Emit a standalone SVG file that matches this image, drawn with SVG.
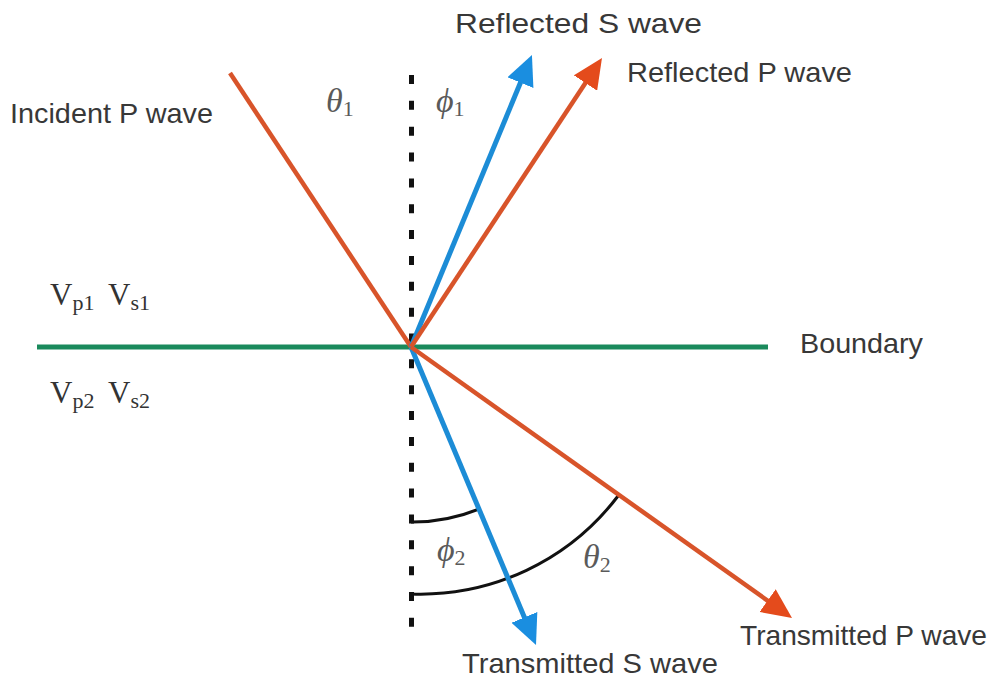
<svg xmlns="http://www.w3.org/2000/svg" width="995" height="682" viewBox="0 0 995 682">
<style>
.lbl{font-family:"Liberation Sans",Arial,sans-serif;font-size:28px;fill:#383838}
.math{font-family:"Liberation Serif","DejaVu Serif",serif;font-style:italic;font-size:34px;fill:#5a5a5a}
.sub{font-style:normal;font-size:22px}
.vel{font-family:"Liberation Serif","DejaVu Serif",serif;font-size:31px;fill:#333}
.vsub{font-size:22px}
.p{stroke:#d8542a;stroke-width:4.5;fill:none}
.s{stroke:#1c8cd6;stroke-width:5;fill:none}
.arc{stroke:#111;stroke-width:3;fill:none}
</style>
<defs>
<marker id="ahP" viewBox="0 0 30 28" refX="15" refY="14" markerWidth="30" markerHeight="28" markerUnits="userSpaceOnUse" orient="auto">
<path d="M0,0 L30,14 L0,28 z" fill="#e44b1c"/>
</marker>
<marker id="ahS" viewBox="0 0 30 28" refX="15" refY="14" markerWidth="30" markerHeight="28" markerUnits="userSpaceOnUse" orient="auto">
<path d="M0,0 L30,14 L0,28 z" fill="#1a8ee0"/>
</marker>
</defs>
<rect width="995" height="682" fill="#fff"/>
<g id="normal">
<line x1="411.5" y1="75" x2="411.5" y2="628" stroke="#111" stroke-width="5" stroke-dasharray="9 16.85"/>
</g>
<g id="boundary">
<line x1="37" y1="347" x2="768" y2="347" stroke="#1a8a5c" stroke-width="5"/>
<text class="lbl" x="800" y="353" textLength="123" lengthAdjust="spacingAndGlyphs">Boundary</text>
</g>
<g id="angles">
<path class="arc" d="M411,522 A176,176 0 0 0 479,509"/>
<path class="arc" d="M411,594 A248,248 0 0 0 618,496"/>
</g>
<g id="connectors">
<line class="p" x1="230" y1="73" x2="411" y2="347"/>
<line class="s" x1="411" y1="347" x2="526.2" y2="68.8" marker-end="url(#ahS)"/>
<line class="p" x1="411" y1="347" x2="593.7" y2="70.5" marker-end="url(#ahP)"/>
<line class="s" x1="411" y1="347" x2="530.2" y2="631.2" marker-end="url(#ahS)"/>
<line class="p" x1="411" y1="347" x2="779.8" y2="609.3" marker-end="url(#ahP)"/>
</g>
<g id="incident-p"><text class="lbl" x="10" y="123" textLength="203" lengthAdjust="spacingAndGlyphs">Incident P wave</text></g>
<g id="reflected-s"><text class="lbl" x="455" y="33" textLength="247" lengthAdjust="spacingAndGlyphs">Reflected S wave</text></g>
<g id="reflected-p"><text class="lbl" x="627" y="82" textLength="225" lengthAdjust="spacingAndGlyphs">Reflected P wave</text></g>
<g id="transmitted-p"><text class="lbl" x="740" y="645" textLength="247" lengthAdjust="spacingAndGlyphs">Transmitted P wave</text></g>
<g id="transmitted-s"><text class="lbl" x="462" y="673" textLength="256" lengthAdjust="spacingAndGlyphs">Transmitted S wave</text></g>
<g id="theta1"><text class="math" x="326" y="112">θ<tspan class="sub" dy="4">1</tspan></text></g>
<g id="phi1"><text class="math" x="436" y="112">ϕ<tspan class="sub" dy="4">1</tspan></text></g>
<g id="phi2"><text class="math" x="437" y="561">ϕ<tspan class="sub" dy="4">2</tspan></text></g>
<g id="theta2"><text class="math" x="583" y="568">θ<tspan class="sub" dy="4">2</tspan></text></g>
<g id="medium1">
<text class="vel" x="50" y="305">V<tspan class="vsub" dy="5">p1</tspan></text>
<text class="vel" x="108" y="305">V<tspan class="vsub" dy="5">s1</tspan></text>
</g>
<g id="medium2">
<text class="vel" x="50" y="403">V<tspan class="vsub" dy="5">p2</tspan></text>
<text class="vel" x="108" y="403">V<tspan class="vsub" dy="5">s2</tspan></text>
</g>
</svg>
